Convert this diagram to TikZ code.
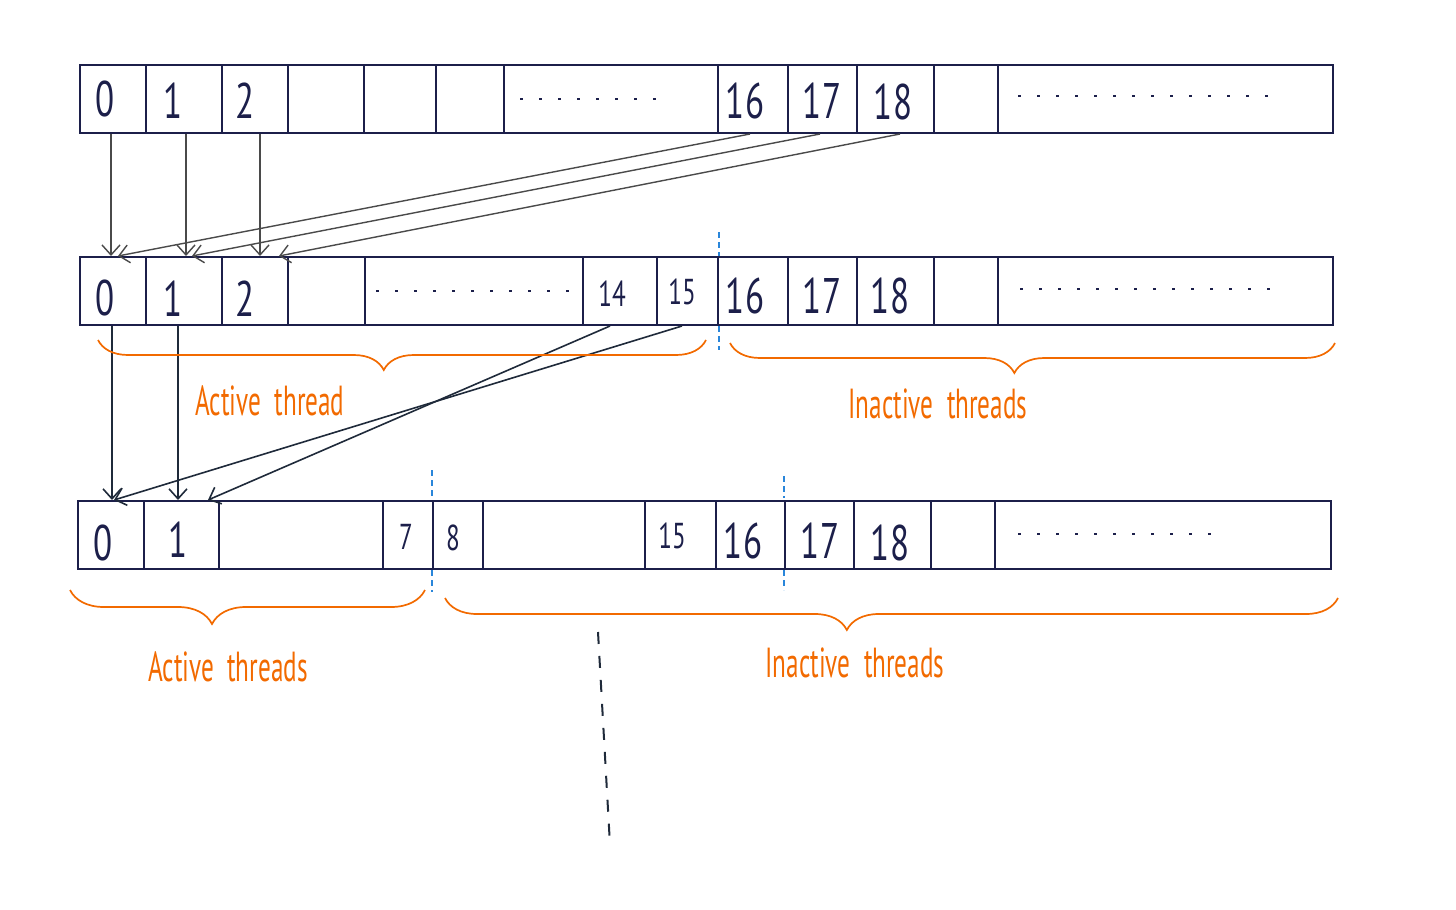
\documentclass[tikz,border=0pt]{standalone}
\usepackage{fontspec}
\setmainfont{PT Sans}
\definecolor{ThreadNavy}{HTML}{1C1F4A}
\definecolor{ThreadGray}{HTML}{4A4A4A}
\definecolor{ThreadDark}{HTML}{1F2A3A}
\definecolor{ThreadOrange}{HTML}{F26A00}
\definecolor{ThreadBlue}{HTML}{2A86DA}
\usetikzlibrary{arrows.meta,decorations.pathreplacing}
\newcommand{\narrow}[1]{\scalebox{0.7}[1]{#1}}
\newcommand{\slim}[1]{\scalebox{0.6}[1]{#1}}
\tikzset{
  row/.style={draw=ThreadNavy, line width=1pt, minimum width=626.5pt, minimum height=34pt, inner sep=0pt, anchor=north west},
  cell/.style={ThreadNavy, line width=0.9pt},
  digit/.style={text=ThreadNavy, inner sep=0pt, font=\fontsize{25}{25}\selectfont},
  small digit/.style={digit, font=\fontsize{18}{18}\selectfont},
  gap dots/.style={ThreadNavy, line width=0.8pt, dash pattern=on 1.5pt off 8pt},
  feed/.style={-{Straight Barb[length=5pt,width=9pt]}, ThreadGray, line width=0.7pt},
  link/.style={-{Straight Barb[length=5pt,width=9pt]}, ThreadDark, line width=0.8pt},
  split/.style={ThreadBlue, line width=0.7pt, dash pattern=on 3pt off 2pt},
  group/.style={decorate, ThreadOrange, line width=0.85pt},
  note/.style={text=ThreadOrange, font=\fontsize{21}{21}\selectfont}
}

\begin{document}
\begin{tikzpicture}[x=0.5pt, y=-0.5pt]
  \useasboundingbox (0,0) rectangle (1456,910);

  % first pass
  \node[row] (rowA) at (79,64) {};
  \foreach \x in {146,222,288,364,436,504,718,788,857,934,998}
    \draw[cell] (\x,64) -- (\x,132);
  \node[digit] (a0) at (105,99) {\narrow{0}};
  \node[digit] (a1) at (173,101) {\narrow{1}};
  \node[digit] (a2) at (245,101) {\narrow{2}};
  \node[digit] (a16) at (745,101) {\narrow{16}};
  \node[digit] (a17) at (822,101) {\narrow{17}};
  \node[digit] (a18) at (893,102) {\narrow{18}};
  \draw[gap dots] (520,99) -- (664,99);
  \draw[gap dots] (1018,96) -- (1278,96);

  % second pass
  \node[row] (rowB) at (79,256) {};
  \foreach \x in {146,222,288,365,583,657,718,788,857,934,998}
    \draw[cell] (\x,256) -- (\x,324);
  \node[digit] (b0) at (105,298) {\narrow{0}};
  \node[digit] (b1) at (173,299) {\narrow{1}};
  \node[digit] (b2) at (245,299) {\narrow{2}};
  \node[small digit] (b14) at (612,294) {\narrow{14}};
  \node[small digit] (b15) at (682,292) {\narrow{15}};
  \node[digit] (b16) at (745,296) {\narrow{16}};
  \node[digit] (b17) at (822,296) {\narrow{17}};
  \node[digit] (b18) at (890,296) {\narrow{18}};
  \draw[gap dots] (376,291) -- (580,291);
  \draw[gap dots] (1020,289) -- (1278,289);
  \draw[split] (719,232) -- (719,256);
  \draw[split] (719,326) -- (719,350);

  % third pass
  \node[row] (rowC) at (77,500) {};
  \foreach \x in {144,219,383,433,483,645,716,785,854,931,995}
    \draw[cell] (\x,500) -- (\x,568);
  \node[digit] (c0) at (103,543) {\narrow{0}};
  \node[digit] (c1) at (178,540) {\narrow{1}};
  \node[small digit] (c7) at (406,537) {\narrow{7}};
  \node[small digit] (c8) at (453,538) {\narrow{8}};
  \node[small digit] (c15) at (672,536) {\narrow{15}};
  \node[digit] (c16) at (743,541) {\narrow{16}};
  \node[digit] (c17) at (820,541) {\narrow{17}};
  \node[digit] (c18) at (890,543) {\narrow{18}};
  \draw[gap dots] (1018,534) -- (1218,534);
  \draw[split] (432,470) -- (432,498);
  \draw[split] (432,570) -- (432,592);
  \draw[split] (784,476) -- (784,498);
  \draw[split] (784,570) -- (784,590);

  % moves from pass one to pass two
  \draw[feed] ([xshift=3pt]a0.center |- rowA.south) -- ([xshift=3pt]a0.center |- rowB.north);
  \draw[feed] ([xshift=6.5pt]a1.center |- rowA.south) -- ([xshift=6.5pt]a1.center |- rowB.north);
  \draw[feed] ([xshift=7.5pt]a2.center |- rowA.south) -- ([xshift=7.5pt]a2.center |- rowB.north);
  \draw[feed] ([xshift=2.5pt]a16.center |- rowA.south) -- ([xshift=6.5pt]b0.center |- rowB.north);
  \draw[feed] ([xshift=-1pt]a17.center |- rowA.south) -- ([xshift=9.5pt]b1.center |- rowB.north);
  \draw[feed] ([xshift=3.5pt]a18.center |- rowA.south) -- ([xshift=17pt]b2.center |- rowB.north);

  % moves from pass two to pass three
  \draw[link] ([xshift=3.5pt]b0.center |- rowB.south) -- ([xshift=3.5pt]b0.center |- rowC.north);
  \draw[link] ([xshift=2.5pt]b1.center |- rowB.south) -- ([xshift=2.5pt]b1.center |- rowC.north);
  \draw[link] (b15 |- rowB.south) -- ([xshift=5.5pt]c0.center |- rowC.north);
  \draw[link] ([xshift=-1pt]b14.center |- rowB.south) -- ([xshift=15pt]c1.center |- rowC.north);

  % braces and notes
  \draw[group, decoration={brace, mirror, amplitude=15pt, aspect=0.47}] (98,340) -- (706,340);
  \draw[group, decoration={brace, mirror, amplitude=15pt, aspect=0.47}] (730,343) -- (1335,343);
  \draw[group, decoration={brace, mirror, amplitude=17pt, aspect=0.40}] (70,590) -- (425,590);
  \draw[group, decoration={brace, mirror, amplitude=16pt, aspect=0.45}] (445,598) -- (1338,598);
  \node[note] (activeB) at (270,401) {\slim{Active\ \ thread}};
  \node[note] (idleB) at (938,404) {\slim{Inactive\ \ threads}};
  \node[note] (activeC) at (228,667) {\slim{Active\ \ threads}};
  \node[note] (idleC) at (855,663) {\slim{Inactive\ \ threads}};

  % further passes
  \draw[ThreadDark, line width=1pt, dash pattern=on 6pt off 6pt] (598,632) -- (610,845);
\end{tikzpicture}
\end{document}
